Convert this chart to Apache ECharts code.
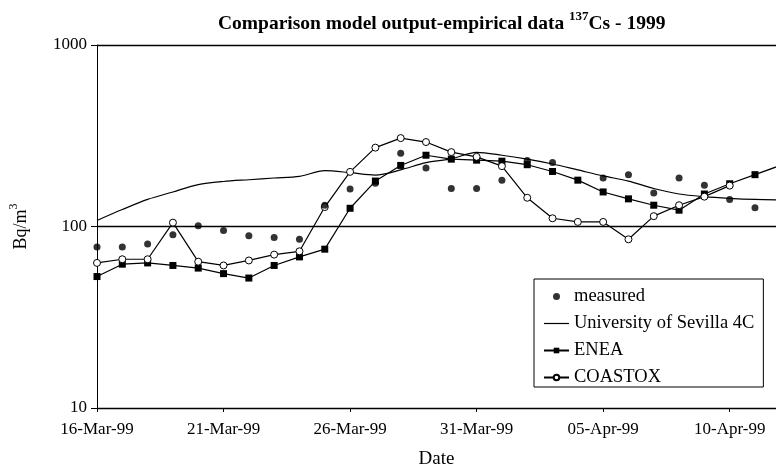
<!DOCTYPE html>
<html>
<head>
<meta charset="utf-8">
<script src="https://cdn.jsdelivr.net/npm/echarts@6/dist/echarts.min.js"></script>
<style>
  html, body { margin: 0; padding: 0; background: #fff; }
  #chart { width: 776px; height: 464px; }
</style>
</head>
<body>
<div id="chart"></div>
<script>
// day index 0 = 16-Mar-99, one point per day
const tickLabels = ['16-Mar-99', '21-Mar-99', '26-Mar-99', '31-Mar-99', '05-Apr-99', '10-Apr-99']

const measured = [77, 77, 80, 90, 101, 95, 89, 87, 85, 131, 161, 173, 253, 210, 162, 162, 180, 231, 225, null, 185, 193, 153, 185, 169, 141, 127]
const sevilla = [108, 124, 141, 155, 170, 177, 181, 185, 189, 203, 198, 192, 205, 225, 236, 256, 247, 235, 221, 205, 190, 178, 162, 151, 146, 143, 141, 140]
const enea = [53, 62, 63, 61, 59, 55, 52, 61, 68, 75, 126, 178, 217, 247, 235, 232, 229, 219, 201, 180, 155, 142, 131, 123, 151, 172, 193, 217]
const coastox = [63, 66, 66, 105, 64, 61, 65, 70, 73, 128, 200, 272, 307, 292, 257, 242, 215, 144, 111, 106, 106, 85, 114, 131, 146, 168]

const FONT = 'Liberation Serif'

function toPairs(arr) {
  return arr.map((v, i) => [i, v]).filter(p => p[1] != null)
}

const chart = echarts.init(document.getElementById('chart'))

const option = {
  animation: false,
  backgroundColor: '#fff',
  textStyle: { fontFamily: FONT, color: '#000' },
  title: {
    left: 213,
    top: 5,
    text: '{a|Comparison model output-empirical data }{s|137}{a|Cs - 1999}',
    textStyle: {
      rich: {
        a: { fontFamily: FONT, fontWeight: 'bold', fontSize: 19.5, color: '#000', verticalAlign: 'bottom', lineHeight: 24 },
        s: { fontFamily: FONT, fontWeight: 'bold', fontSize: 13, color: '#000', verticalAlign: 'top', lineHeight: 24, padding: [0, 0, 9, 0] }
      }
    }
  },
  legend: {
    orient: 'vertical',
    left: 534,
    top: 279,
    padding: [8, 9, 0, 9],
    itemWidth: 25,
    itemHeight: 7,
    itemGap: 8,
    borderColor: '#000',
    borderWidth: 1,
    backgroundColor: '#fff',
    textStyle: { fontFamily: FONT, fontSize: 18.5, color: '#000' },
    data: [
      'measured',
      { name: 'University of Sevilla 4C', icon: 'path://M0,0h25v1.2h-25z' },
      'ENEA',
      'COASTOX'
    ]
  },
  grid: { left: 97, right: 0, top: 45, bottom: 56, outerBoundsMode: 'none' },
  xAxis: {
    type: 'value',
    min: 0,
    max: 26.83,
    interval: 5,
    name: 'Date',
    nameLocation: 'middle',
    nameGap: 42,
    nameTextStyle: { fontFamily: FONT, fontSize: 19, color: '#000' },
    axisLine: { show: true, lineStyle: { color: '#000', width: 1 } },
    axisTick: { show: true, length: 4, lineStyle: { color: '#000' } },
    splitLine: { show: false },
    axisLabel: {
      showMaxLabel: false,
      margin: 13,
      fontFamily: FONT,
      fontSize: 17,
      color: '#000',
      formatter: v => (v % 5 === 0 ? tickLabels[v / 5] || '' : '')
    }
  },
  yAxis: {
    type: 'log',
    logBase: 10,
    min: 10,
    max: 1000,
    name: '{a|Bq/m}{s|3}',
    nameLocation: 'middle',
    nameGap: 67,
    nameRotate: 90,
    nameTextStyle: {
      rich: {
        a: { fontFamily: FONT, fontSize: 18, color: '#000', verticalAlign: 'bottom', lineHeight: 22 },
        s: { fontFamily: FONT, fontSize: 12, color: '#000', verticalAlign: 'top', lineHeight: 22, padding: [0, 0, 8, 0] }
      }
    },
    axisLine: { show: true, lineStyle: { color: '#000', width: 1 } },
    axisTick: { show: true, length: 6, lineStyle: { color: '#000' } },
    splitLine: { show: true, lineStyle: { color: '#000', width: 1.3 } },
    axisLabel: {
      fontFamily: FONT,
      fontSize: 17,
      color: '#000',
      margin: 10,
      formatter: v => String(Math.round(v))
    }
  },
  series: [
    {
      name: 'measured',
      type: 'scatter',
      symbol: 'circle',
      symbolSize: 7,
      itemStyle: { color: '#000' },
      data: toPairs(measured),
      z: 5
    },
    {
      name: 'University of Sevilla 4C',
      type: 'line',
      smooth: 0.3,
      showSymbol: false,
      symbol: 'none',
      lineStyle: { color: '#000', width: 1.2 },
      itemStyle: { color: '#000' },
      data: toPairs(sevilla),
      z: 2
    },
    {
      name: 'ENEA',
      type: 'line',
      symbol: 'rect',
      symbolSize: 7,
      lineStyle: { color: '#000', width: 1.2 },
      itemStyle: { color: '#000' },
      data: toPairs(enea),
      z: 3
    },
    {
      name: 'COASTOX',
      type: 'line',
      symbol: 'circle',
      symbolSize: 7,
      lineStyle: { color: '#000', width: 1.2 },
      itemStyle: { color: '#fff', borderColor: '#000', borderWidth: 1 },
      data: toPairs(coastox),
      z: 4
    }
  ]
}

chart.setOption(option)
</script>
</body>
</html>
